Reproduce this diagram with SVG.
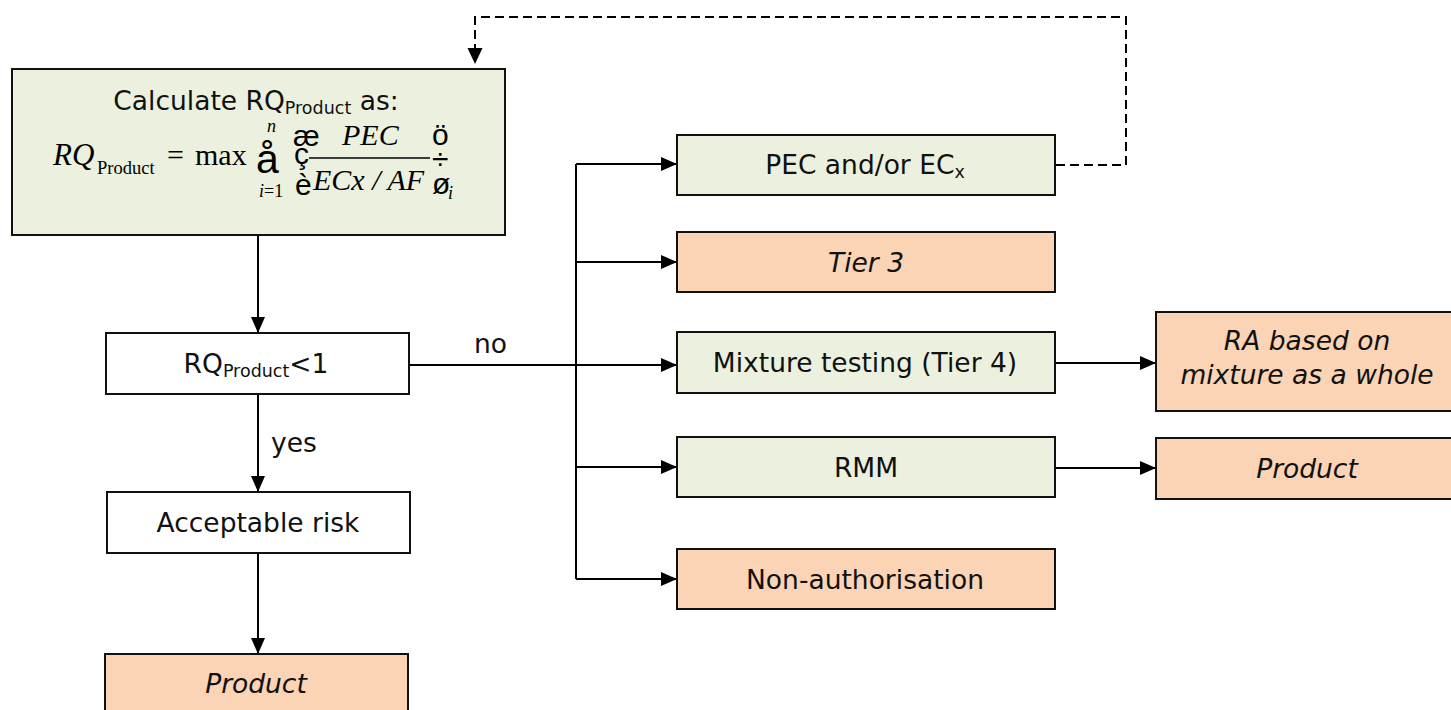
<svg xmlns="http://www.w3.org/2000/svg" width="1451" height="710" viewBox="0 0 1451 710">
<style>
.box{stroke:#111;stroke-width:2}
.g{fill:#EBF1DE}
.o{fill:#FAD4B4}
.w{fill:#FFFFFF}
.lbl{font-family:"DejaVu Sans",Verdana,sans-serif;font-size:26.5px;fill:#111;text-anchor:middle}
.it{font-style:italic}
.plain{font-family:"DejaVu Sans",Verdana,sans-serif;font-size:26.5px;fill:#111}
.con{fill:none;stroke:#000;stroke-width:2}
.dash{stroke-dasharray:9,5}
.m{font-family:"Liberation Serif","Times New Roman",serif;fill:#000}
.s{font-family:"Liberation Sans",Arial,sans-serif;fill:#000}
</style>
<defs>
<marker id="ah" markerUnits="userSpaceOnUse" markerWidth="16" markerHeight="14" refX="16" refY="7" orient="auto">
<path d="M0,0 L16,7 L0,14 z" fill="#000"/>
</marker>
</defs>

<g id="connectors">
<path class="con" d="M258,235 V333" marker-end="url(#ah)"/>
<path class="con" d="M258,394 V492" marker-end="url(#ah)"/>
<path class="con" d="M258,553 V654" marker-end="url(#ah)"/>
<path class="con" d="M409,365 H677" marker-end="url(#ah)"/>
<path class="con" d="M576,164 V579"/>
<path class="con" d="M576,164 H677" marker-end="url(#ah)"/>
<path class="con" d="M576,262 H677" marker-end="url(#ah)"/>
<path class="con" d="M576,467 H677" marker-end="url(#ah)"/>
<path class="con" d="M576,579 H677" marker-end="url(#ah)"/>
<path class="con" d="M1056,363 H1156" marker-end="url(#ah)"/>
<path class="con" d="M1056,468 H1156" marker-end="url(#ah)"/>
<path class="con dash" d="M1056,165 H1126 V17 H475 V48"/>
<path d="M467.5,48 L482.5,48 L475,64 z" fill="#000"/>
<text class="plain" x="474" y="353">no</text>
<text class="plain" x="271" y="452">yes</text>
</g>

<g id="calc">
<rect class="box g" x="12" y="69" width="493" height="166"/>
<text class="lbl" x="256" y="110" font-size="26">Calculate RQ<tspan font-size="17.5" dy="4">Product</tspan><tspan dy="-4"> as:</tspan></text>
<text class="m" font-style="italic" font-size="31" x="53" y="165">RQ</text>
<text class="m" font-size="18.5" x="97" y="174">Product</text>
<text class="m" font-size="30" x="167" y="165">=</text>
<text class="m" font-size="30" x="195" y="165">max</text>
<text class="s" font-size="41" x="256" y="173">å</text>
<text class="m" font-style="italic" font-size="18" x="267" y="132">n</text>
<text class="m" font-size="18" x="259" y="197"><tspan font-style="italic">i</tspan>=1</text>
<text class="s" font-size="30" x="293" y="146">æ</text>
<text class="s" font-size="30" x="294" y="164">ç</text>
<text class="s" font-size="30" x="295" y="195">è</text>
<line x1="309" y1="158" x2="430" y2="158" stroke="#000" stroke-width="1.5"/>
<text class="m" font-style="italic" font-size="30" x="342" y="145">PEC</text>
<text class="m" font-style="italic" font-size="30" x="313" y="190">ECx / AF</text>
<text class="s" font-size="30" x="432" y="145">ö</text>
<text class="s" font-size="30" x="432" y="169">÷</text>
<text class="s" font-size="30" x="432" y="194">ø</text>
<text class="m" font-style="italic" font-size="18" x="448" y="199">i</text>
</g>

<g id="rq">
<rect class="box w" x="106" y="333" width="303" height="61"/>
<text class="lbl" x="256" y="373">RQ<tspan font-size="17.5" dy="4">Product</tspan><tspan dy="-4">&lt;1</tspan></text>
</g>

<g id="acceptable">
<rect class="box w" x="107" y="492" width="303" height="61"/>
<text class="lbl" x="258" y="532">Acceptable risk</text>
</g>

<g id="product-left">
<rect class="box o" x="105" y="654" width="303" height="62"/>
<text class="lbl it" x="256" y="693">Product</text>
</g>

<g id="pec">
<rect class="box g" x="677" y="135" width="378" height="60"/>
<text class="lbl" x="865" y="174">PEC and/or EC<tspan font-size="17.5" dy="4">x</tspan></text>
</g>

<g id="tier3">
<rect class="box o" x="677" y="232" width="378" height="60"/>
<text class="lbl it" x="866" y="272">Tier 3</text>
</g>

<g id="mixture">
<rect class="box g" x="677" y="332" width="378" height="61"/>
<text class="lbl" x="865" y="372">Mixture testing (Tier 4)</text>
</g>

<g id="rmm">
<rect class="box g" x="677" y="437" width="378" height="60"/>
<text class="lbl" x="866" y="477">RMM</text>
</g>

<g id="nonauth">
<rect class="box o" x="677" y="549" width="378" height="60"/>
<text class="lbl" x="865" y="589">Non-authorisation</text>
</g>

<g id="ra">
<rect class="box o" x="1156" y="312" width="300" height="99"/>
<text class="lbl it" x="1307" y="350">RA based on</text>
<text class="lbl it" x="1307" y="384">mixture as a whole</text>
</g>

<g id="product-right">
<rect class="box o" x="1156" y="438" width="300" height="61"/>
<text class="lbl it" x="1307" y="478">Product</text>
</g>
</svg>
